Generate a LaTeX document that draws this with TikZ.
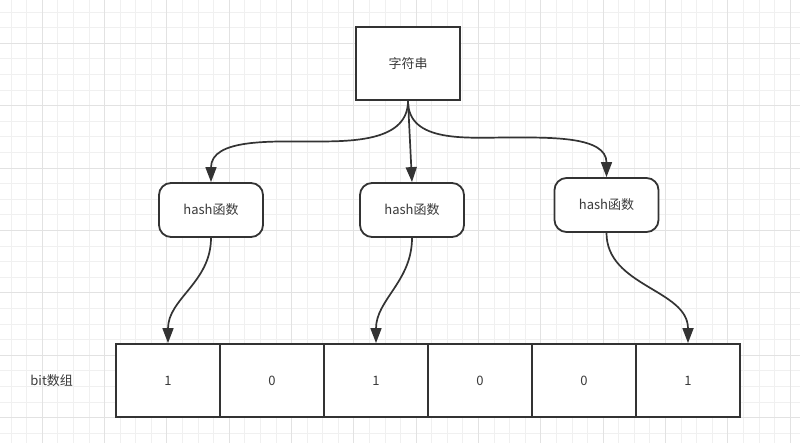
\documentclass[tikz,border=0pt]{standalone}
\usepackage{fontspec}
\newfontfamily\cjk{Noto Sans CJK SC}
\usetikzlibrary{arrows.meta}
\definecolor{ln}{HTML}{333333}
\definecolor{txt}{HTML}{3A3A3A}
\definecolor{gminor}{HTML}{F0F0F0}
\definecolor{gmajor}{HTML}{E2E2E2}
\tikzset{
  base/.style={draw=ln, line width=1.8pt, fill=white, inner sep=0pt, text=txt,
    font=\cjk\fontsize{13}{15}\selectfont},
  rectbox/.style={base, minimum width=104pt, minimum height=73pt},
  hashbox/.style={base, minimum width=104pt, minimum height=54pt, rounded corners=12pt},
  cellbox/.style={base, minimum width=104pt, minimum height=73pt},
  conn/.style={draw=ln, line width=1.7pt, arrows={-Triangle[length=15pt,width=11pt]}},
  lbl/.style={text=txt, inner sep=0pt, font=\cjk\fontsize{13}{15}\selectfont}
}
\begin{document}
\begin{tikzpicture}[x=1pt,y=-1pt]
\useasboundingbox (0,0) rectangle (800,443);
\fill[white] (0,0) rectangle (800,443);
% grid
\foreach \i in {0,...,51} {\draw[gminor, line width=0.9pt] ({11.1+15.58*\i},0) -- ({11.1+15.58*\i},443);}
\foreach \i in {0,...,28} {\draw[gminor, line width=0.9pt] (0,{12.1+15.6*\i}) -- (800,{12.1+15.6*\i});}
\foreach \i in {0,...,12} {\draw[gmajor, line width=1pt] ({42.3+62.32*\i},0) -- ({42.3+62.32*\i},443);}
\foreach \i in {0,...,6} {\draw[gmajor, line width=1pt] (0,{43.3+62.4*\i}) -- (800,{43.3+62.4*\i});}
% nodes
\node[rectbox] (top) at (408,63.5) {字符串};
\node[hashbox] (h1) at (211,210) {hash函数};
\node[hashbox] (h2) at (412,210) {hash函数};
\node[hashbox] (h3) at (606.5,205) {hash函数};
\node[cellbox] (c1) at (168,380.5) {1};
\node[cellbox] (c2) at (272,380.5) {0};
\node[cellbox] (c3) at (376,380.5) {1};
\node[cellbox] (c4) at (480,380.5) {0};
\node[cellbox] (c5) at (584,380.5) {0};
\node[cellbox] (c6) at (688,380.5) {1};
\node[lbl] (bitlbl) at (51.7,381) {bit数组};
% connectors
\coordinate (m1) at (315,141.5);
\coordinate (m3) at (510,137.5);
\draw[conn] (top.south) to[out=-90,in=0] (m1) to[out=180,in=90] (h1.north);
\draw[conn] (top.south) -- (h2.north);
\draw[conn] (top.south) to[out=-90,in=180] (m3) to[out=0,in=90] (h3.north);
\draw[conn] (h1.south) to[out=-90,in=90] (c1.north);
\draw[conn] (h2.south) to[out=-90,in=90] (c3.north);
\draw[conn] (h3.south) to[out=-90,in=90] (c6.north);
\end{tikzpicture}
\end{document}
